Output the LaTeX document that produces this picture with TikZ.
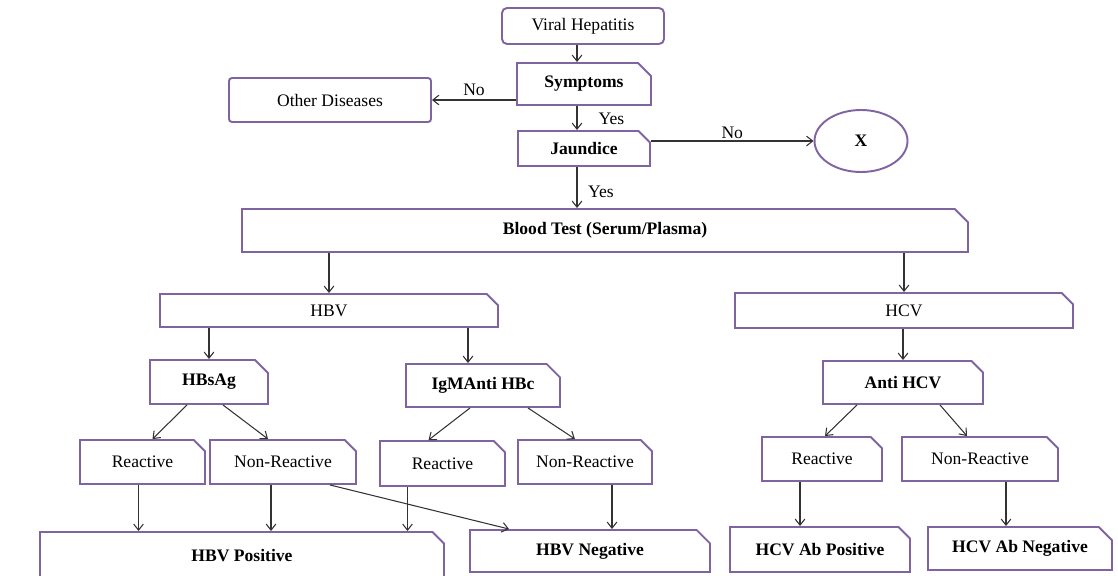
\documentclass[tikz,border=0pt]{standalone}
\usepackage{fontspec}
\setmainfont{Liberation Serif}
\usetikzlibrary{shapes.geometric,shapes.misc,calc,arrows.meta}
\definecolor{boxpurple}{HTML}{8064A2}

\begin{document}
\begin{tikzpicture}[x=0.02cm,y=-0.02cm,
    box/.style={chamfered rectangle,chamfered rectangle corners=north east,
      chamfered rectangle xsep=0.16cm,draw=boxpurple,line width=1.1pt,
      inner sep=0pt,font=\fontsize{10}{12}\selectfont},
    bbox/.style={box,font=\fontsize{10}{12}\selectfont\bfseries},
    arr/.style={-{Straight Barb[length=3.5pt,width=5.5pt]},draw=black!80,line width=0.6pt},
    lbl/.style={font=\fontsize{10}{12}\selectfont,inner sep=2pt}]
    \def\u{0.02cm} % one pixel of the reference

    \useasboundingbox (0,0) rectangle (1118,575);

    % top of the chart
    \node[box,rectangle,rounded corners=5*\u,minimum width=162*\u,minimum height=36*\u] (vh) at (583,26) {Viral Hepatitis};
    \node[bbox,minimum width=134*\u,minimum height=42*\u] (sym) at (584,84) {Symptoms};
    \node[box,rectangle,rounded corners=3*\u,minimum width=202*\u,minimum height=44*\u] (oth) at (330,100) {Other Diseases};
    \node[bbox,minimum width=132*\u,minimum height=35*\u] (jau) at (584,148.5) {Jaundice};
    \node[bbox,ellipse,minimum width=93*\u,minimum height=62*\u] (x) at (861,141) {X};
    \node[bbox,minimum width=726*\u,minimum height=43*\u] (blood) at (605,230.5) {Blood Test (Serum/Plasma)};

    % HBV and HCV
    \node[box,minimum width=338*\u,minimum height=33*\u] (hbv) at (329,310.5) {HBV};
    \node[box,minimum width=338*\u,minimum height=35*\u] (hcv) at (904,310.5) {HCV};
    \node[bbox,minimum width=118*\u,minimum height=44*\u] (hbsag) at (209,382) {HBsAg};
    \node[bbox,minimum width=154*\u,minimum height=43*\u] (igm) at (483,385.5) {IgMAnti HBc};
    \node[bbox,minimum width=160*\u,minimum height=43*\u] (ahcv) at (903,382.5) {Anti HCV};

    % test results
    \node[box,minimum width=125*\u,minimum height=44*\u] (rea1) at (142.5,462) {Reactive};
    \node[box,minimum width=146*\u,minimum height=44*\u] (non1) at (283,462) {Non-Reactive};
    \node[box,minimum width=125*\u,minimum height=45*\u] (rea2) at (442.5,463.5) {Reactive};
    \node[box,minimum width=134*\u,minimum height=44*\u] (non2) at (585,462) {Non-Reactive};
    \node[box,minimum width=120*\u,minimum height=44*\u] (rea3) at (822,459) {Reactive};
    \node[box,minimum width=156*\u,minimum height=44*\u] (non3) at (980,459) {Non-Reactive};

    % outcomes
    \node[bbox,minimum width=404*\u,minimum height=48*\u] (pos1) at (242,556) {HBV Positive};
    \node[bbox,minimum width=240*\u,minimum height=42*\u] (neg1) at (590,551) {HBV Negative};
    \node[bbox,minimum width=180*\u,minimum height=45*\u] (pos2) at (820,549.5) {HCV Ab Positive};
    \node[bbox,minimum width=184*\u,minimum height=43*\u] (neg2) at (1020,548.5) {HCV Ab Negative};

    % connectors
    \draw[arr] ($(vh.south)+(-6,0)$) coordinate (t) -- (t |- sym.north);
    \draw[arr] (sym.west |- oth.east) -- node[lbl,above] {No} (oth.east);
    \draw[arr] ($(sym.south)+(-7,0)$) coordinate (t) -- node[lbl,right=10pt,pos=0.55] {Yes} (t |- jau.north);
    \draw[arr] (jau.east |- x.west) -- node[lbl,above=-1pt] {No} (x.west);
    \draw[arr] ($(jau.south)+(-7,0)$) coordinate (t) -- node[lbl,right=4pt,pos=0.6] {Yes} (t |- blood.north);
    \draw[arr] (hbv.north |- blood.south) -- (hbv.north);
    \draw[arr] (hcv.north |- blood.south) -- (hcv.north);
    \draw[arr] (hbsag.north |- hbv.south) -- (hbsag.north);
    \draw[arr] ($(igm.north)+(-15,0)$) coordinate (t) (t |- hbv.south) -- (t);
    \draw[arr] (ahcv.north |- hcv.south) -- (ahcv.north);

    \draw[arr] ($(hbsag.south)+(-22,0)$) -- ($(rea1.north)+(10,0)$);
    \draw[arr] ($(hbsag.south)+(14,0)$) -- ($(non1.north)+(-15,0)$);
    \draw[arr] ($(igm.south)+(-13,0)$) -- ($(rea2.north)+(-14,0)$);
    \draw[arr] ($(igm.south)+(45,0)$) -- ($(non2.north)+(-10,0)$);
    \draw[arr] ($(ahcv.south)+(-46,0)$) -- ($(rea3.north)+(3,0)$);
    \draw[arr] ($(ahcv.south)+(37,0)$) -- ($(non3.north)+(-13,0)$);

    \draw[arr] ($(rea1.south)+(-4,0)$) coordinate (t) -- (t |- pos1.north);
    \draw[arr] ($(non1.south)+(-12,0)$) coordinate (t) -- (t |- pos1.north);
    \draw[arr] ($(rea2.south)+(-35,0)$) coordinate (t) -- (t |- pos1.north);
    \draw[arr] ($(non1.south)+(47,0)$) -- ($(neg1.north west)+(40,0)$);
    \draw[arr] ($(non2.south)+(27,0)$) coordinate (t) -- (t |- neg1.north);
    \draw[arr] ($(rea3.south)+(-22,0)$) coordinate (t) -- (t |- pos2.north);
    \draw[arr] ($(non3.south)+(26,0)$) coordinate (t) -- (t |- neg2.north);
\end{tikzpicture}
\end{document}
